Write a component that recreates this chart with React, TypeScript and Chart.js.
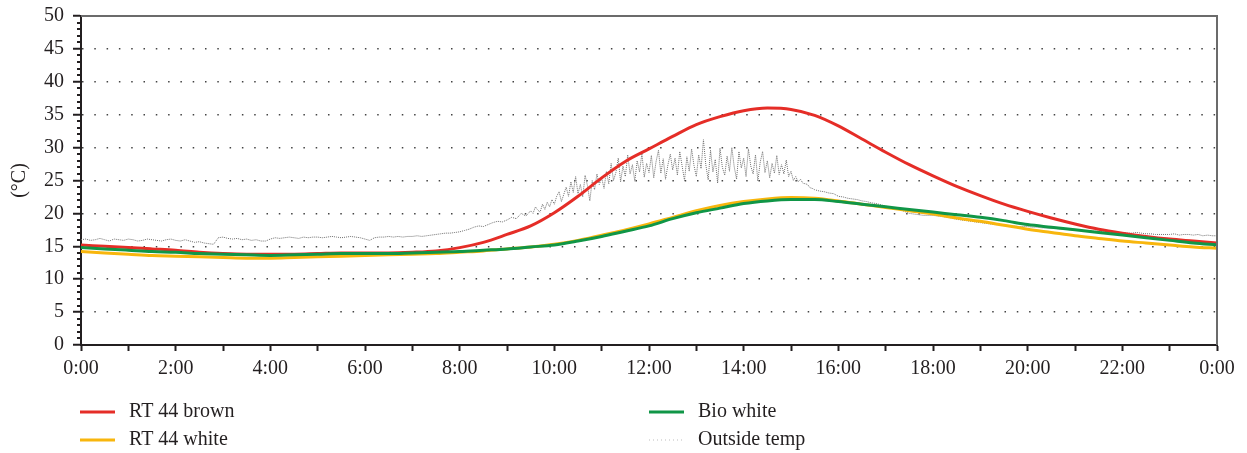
import { useEffect, useRef } from 'react';
import { Chart, registerables } from 'chart.js';

Chart.register(...registerables);

// ---- data ----
const seriesLabels = ['RT 44 brown', 'RT 44 white', 'Bio white', 'Outside temp'];

const halfHours = [
  0, 0.5, 1, 1.5, 2, 2.5, 3, 3.5, 4, 4.5, 5, 5.5, 6, 6.5, 7, 7.5, 8, 8.5, 9, 9.5,
  10, 10.5, 11, 11.5, 12, 12.5, 13, 13.5, 14, 14.5, 15, 15.5, 16, 16.5, 17, 17.5,
  18, 18.5, 19, 19.5, 20, 20.5, 21, 21.5, 22, 22.5, 23, 23.5, 24,
];

const rt44Brown = [
  15.2, 15.0, 14.8, 14.6, 14.4, 14.1, 13.9, 13.8, 13.8, 13.8, 13.9, 14.0, 14.0, 14.0, 14.1, 14.3,
  14.8, 15.6, 16.8, 18.1, 20.1, 22.6, 25.4, 27.9, 29.8, 31.7, 33.5, 34.7, 35.6, 36.0, 35.8, 34.9,
  33.3, 31.3, 29.3, 27.4, 25.7, 24.1, 22.7, 21.4, 20.3, 19.3, 18.4, 17.6, 17.0, 16.5, 16.1, 15.8, 15.5,
];

const rt44White = [
  14.2, 14.0, 13.8, 13.6, 13.5, 13.4, 13.3, 13.2, 13.2, 13.3, 13.4, 13.5, 13.6, 13.7, 13.8, 13.9,
  14.1, 14.3, 14.6, 14.9, 15.3, 15.9, 16.7, 17.5, 18.4, 19.4, 20.4, 21.2, 21.8, 22.2, 22.4, 22.3,
  21.9, 21.4, 20.9, 20.4, 19.9, 19.3, 18.8, 18.2, 17.6, 17.1, 16.6, 16.2, 15.8, 15.5, 15.2, 14.9, 14.7,
];

const bioWhite = [
  14.8, 14.6, 14.4, 14.2, 14.1, 13.9, 13.8, 13.7, 13.6, 13.7, 13.8, 13.9, 13.9, 13.9, 14.0, 14.1,
  14.2, 14.4, 14.6, 14.9, 15.2, 15.8, 16.5, 17.3, 18.1, 19.2, 20.1, 20.8, 21.5, 21.9, 22.1, 22.1,
  21.8, 21.4, 21.0, 20.6, 20.2, 19.8, 19.4, 18.9, 18.3, 17.9, 17.5, 17.1, 16.7, 16.3, 15.9, 15.5, 15.2,
];

// outside temperature 0:00–9:24, every 6 minutes
const outsideEarly = [
  16.0, 16.1, 15.9, 16.0, 16.2, 16.0, 15.8, 16.1, 16.0, 15.9,
  16.1, 16.0, 15.8, 15.9, 16.1, 16.0, 15.9, 15.8, 16.0, 16.1,
  15.9, 15.8, 16.0, 15.8, 15.6, 15.7, 15.5, 15.4, 15.3, 16.3,
  16.4, 16.2, 16.1, 16.2, 16.0, 16.1, 15.9, 16.0, 15.8, 15.8,
  16.1, 16.3, 16.2, 16.3, 16.4, 16.3, 16.2, 16.4, 16.3, 16.4,
  16.4, 16.3, 16.4, 16.5, 16.4, 16.3, 16.4, 16.5, 16.4, 16.3,
  16.1, 15.9, 16.3, 16.4, 16.4, 16.5, 16.4, 16.5, 16.4, 16.5,
  16.5, 16.6, 16.5, 16.6, 16.7, 16.8, 16.9, 17.0, 17.0, 17.1,
  17.2, 17.4, 17.6, 17.9, 18.1, 18.0, 18.3, 18.6, 18.8, 18.7,
  19.0, 19.4, 19.2, 20.0, 19.6,
];
// outside temperature 9:30–15:30, every 3 minutes (noisy part)
const outsideNoisy = [
  20.4, 20.0, 21.0, 20.5, 20.2, 21.4, 20.6, 21.7, 21.0, 22.1,
  21.4, 22.6, 23.3, 21.8, 22.9, 24.0, 22.6, 24.8, 23.2, 25.6, 23.0, 24.4, 22.5, 25.8, 24.2, 21.9, 25.0, 23.6, 26.0, 24.4,
  25.4, 23.8, 26.4, 24.5, 27.6, 25.0, 26.2, 28.4, 24.8, 27.2, 25.6, 28.9, 26.0, 27.4, 24.9, 28.0, 26.3, 29.1, 25.5, 27.6,
  26.2, 28.8, 25.4, 27.9, 29.6, 26.1, 28.3, 25.2, 27.4, 29.0, 26.6, 28.4, 25.8, 29.4, 27.2, 25.0, 28.6, 26.4, 29.8, 27.3,
  25.6, 28.9, 26.8, 31.2, 27.4, 25.1, 29.6, 26.3, 28.2, 24.6, 29.9, 27.0, 25.8, 28.7, 26.4, 30.0, 27.1, 25.2, 29.4, 26.9,
  28.4, 25.6, 29.8, 27.2, 26.0, 28.9, 24.9, 27.8, 29.4, 26.2, 28.0, 25.4, 27.6, 26.1, 28.8, 25.9, 27.4, 26.0, 28.1, 25.6,
  26.4, 25.0, 25.6, 24.8, 25.2, 24.6, 24.5, 24.4, 23.9, 23.8, 23.6,
];
// outside temperature 15:36–24:00, every 6 minutes
const outsideLate = [
  23.4, 23.3, 23.1, 23.0,
  22.6, 22.5, 22.3, 22.2, 22.1, 21.9, 21.8, 21.6, 21.5, 21.3,
  21.1, 20.9, 20.8, 20.6, 20.3, 20.0, 19.9, 19.8, 19.7, 19.7,
  19.7, 19.6, 19.5, 19.4, 19.3, 19.1, 19.0, 18.9, 18.8, 18.7,
  18.6, 18.5, 18.4, 18.3, 18.3, 18.2, 18.1, 18.1, 18.0, 18.0,
  18.0, 17.9, 17.9, 17.8, 17.8, 17.7, 17.7, 17.6, 17.6, 17.5,
  17.5, 17.4, 17.4, 17.4, 17.3, 17.3, 17.2, 17.2, 17.2, 17.1,
  17.1, 17.0, 17.0, 17.1, 17.0, 16.9, 16.9, 16.8, 16.8, 16.8,
  16.8, 16.9, 16.7, 16.8, 16.8, 16.7, 16.8, 16.6, 16.7, 16.6,
  16.6,
];
const outsidePoints = [
  ...outsideEarly.map((y, i) => ({ x: i * 0.1, y })),
  ...outsideNoisy.map((y, i) => ({ x: 9.5 + i * 0.05, y })),
  ...outsideLate.map((y, i) => ({ x: 15.6 + i * 0.1, y })),
];

const yAxisTitle = '(°C)';
const xTickLabel = (h: number) => (h % 2 === 0 ? `${h % 24}:00` : '');

// ---- styling ----
const FONT = "'Liberation Serif', 'Times New Roman', serif";
const FONT_SIZE = 20;
const TEXT = '#231f20';
const RED = '#e52d27';
const ORANGE = '#f8b60d';
const GREEN = '#109647';
const GRAY = '#6f6f6f';

const pts = (xs: number[], ys: number[]) => xs.map((x, i) => ({ x, y: ys[i] }));

const decorPlugin = {
  id: 'decor',
  afterDraw(chart: any) {
    const { ctx, chartArea: a, scales } = chart;
    const y = scales.y;
    ctx.save();
    // frame top + right
    ctx.strokeStyle = '#6b6b6b';
    ctx.lineWidth = 2;
    ctx.beginPath();
    ctx.moveTo(a.left, a.top);
    ctx.lineTo(a.right, a.top);
    ctx.lineTo(a.right, a.bottom);
    ctx.stroke();
    // minor y ticks
    ctx.strokeStyle = TEXT;
    ctx.lineWidth = 2;
    y.ticks.forEach((t: any) => {
      if (t.value % 5 !== 0) {
        const py = Math.round(y.getPixelForValue(t.value));
        ctx.beginPath();
        ctx.moveTo(a.left - 4, py);
        ctx.lineTo(a.left, py);
        ctx.stroke();
      }
    });
    // legend (two columns)
    const slots = [
      { x: 80, y: 412 },
      { x: 80, y: 440 },
      { x: 649, y: 412 },
      { x: 649, y: 440 },
    ];
    ctx.font = `${FONT_SIZE}px ${FONT}`;
    ctx.textBaseline = 'middle';
    ctx.textAlign = 'left';
    chart.data.datasets.forEach((ds: any, i: number) => {
      const s = slots[i];
      ctx.save();
      ctx.strokeStyle = ds.legendColor || ds.borderColor;
      ctx.lineWidth = ds.legendWidth || ds.borderWidth;
      ctx.setLineDash(ds.legendDash || []);
      ctx.beginPath();
      ctx.moveTo(s.x, s.y);
      ctx.lineTo(s.x + 35, s.y);
      ctx.stroke();
      ctx.restore();
      ctx.fillStyle = TEXT;
      ctx.fillText(ds.label, s.x + 49, s.y);
    });
    ctx.restore();
  },
};

export default function App() {
  const ref = useRef<HTMLCanvasElement>(null);

  useEffect(() => {
    if (!ref.current) return;
    const chart = new Chart(ref.current, {
      type: 'line',
      data: {
        datasets: [
          {
            label: seriesLabels[0],
            data: pts(halfHours, rt44Brown),
            borderColor: RED,
            borderWidth: 3,
            pointRadius: 0,
            cubicInterpolationMode: 'monotone',
            order: 1,
          },
          {
            label: seriesLabels[1],
            data: pts(halfHours, rt44White),
            borderColor: ORANGE,
            borderWidth: 3,
            pointRadius: 0,
            cubicInterpolationMode: 'monotone',
            order: 2,
          },
          {
            label: seriesLabels[2],
            data: pts(halfHours, bioWhite),
            borderColor: GREEN,
            borderWidth: 3,
            pointRadius: 0,
            cubicInterpolationMode: 'monotone',
            order: 0,
          },
          {
            label: seriesLabels[3],
            data: outsidePoints,
            borderColor: GRAY,
            borderWidth: 1,
            borderDash: [1, 1],
            pointRadius: 0,
            tension: 0,
            order: 3,
            legendColor: '#bdbdbd',
            legendWidth: 1,
            legendDash: [1, 3],
          } as any,
        ],
      },
      options: {
        animation: false,
        responsive: true,
        maintainAspectRatio: false,
        layout: { padding: { left: 0, right: 30, top: 16, bottom: 68 } },
        plugins: {
          legend: { display: false },
          tooltip: { enabled: false },
        },
        scales: {
          x: {
            type: 'linear',
            min: 0,
            max: 24,
            afterFit: (s: any) => {
              s.height = 40;
              s.paddingLeft = 0;
              s.paddingRight = 0;
            },
            ticks: {
              stepSize: 1,
              autoSkip: false,
              maxRotation: 0,
              padding: 6,
              color: TEXT,
              font: { family: FONT, size: FONT_SIZE },
              callback: (v: any) => xTickLabel(Number(v)),
            },
            grid: {
              drawOnChartArea: false,
              drawTicks: true,
              tickLength: 6,
              tickWidth: 2,
              tickColor: TEXT,
            },
            border: { color: TEXT, width: 2 },
          },
          y: {
            type: 'linear',
            min: 0,
            max: 50,
            afterFit: (s: any) => {
              s.width = 81;
              s.paddingTop = 0;
              s.paddingBottom = 0;
            },
            title: {
              display: true,
              text: yAxisTitle,
              color: TEXT,
              font: { family: FONT, size: FONT_SIZE },
              padding: { top: 8, bottom: 0 },
            },
            ticks: {
              stepSize: 1,
              autoSkip: false,
              maxTicksLimit: 100,
              padding: 9,
              color: TEXT,
              font: { family: FONT, size: FONT_SIZE },
              callback: (v: any) => (Number(v) % 5 === 0 ? String(v) : ''),
            },
            grid: {
              drawTicks: true,
              tickLength: 8,
              tickWidth: 2,
              lineWidth: 1.5,
              tickColor: (c: any) => (c.tick && c.tick.value % 5 === 0 ? TEXT : 'rgba(0,0,0,0)'),
              color: (c: any) => {
                const v = c.tick ? c.tick.value : -1;
                return v % 5 === 0 && v > 0 && v < 50 ? '#444' : 'rgba(0,0,0,0)';
              },
            },
            border: { color: TEXT, width: 2, dash: [1.5, 10.8] },
          },
        },
      },
      plugins: [decorPlugin],
    } as any);
    return () => chart.destroy();
  }, []);

  return (
    <div style={{ position: 'absolute', left: 0, top: 0, width: 1247, height: 453, background: '#fff' }}>
      <canvas ref={ref} style={{ display: 'block' }} />
    </div>
  );
}
